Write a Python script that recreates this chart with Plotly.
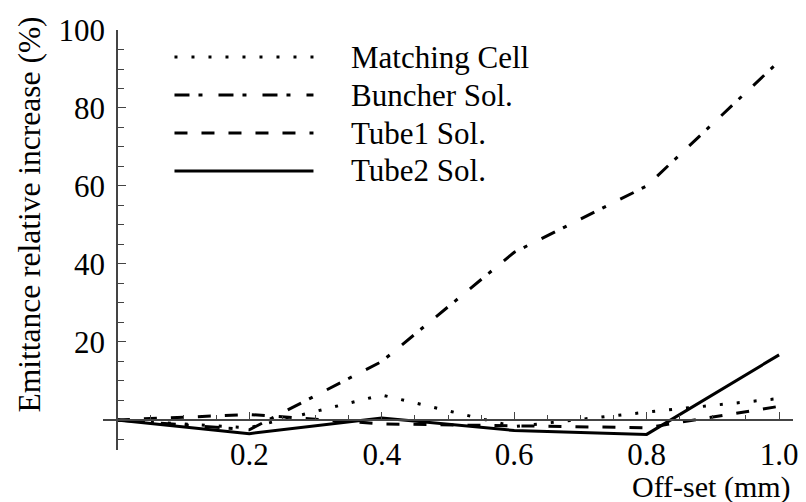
import plotly.graph_objects as go

# ---- data ----
offset_mm = [0.0, 0.2, 0.4, 0.6, 0.8, 1.0]
matching_cell = [0.0, -2.0, 6.4, -1.7, 2.0, 5.5]
buncher_sol = [0.0, -2.5, 15.0, 43.0, 60.0, 92.0]
tube1_sol = [0.0, 1.4, -1.0, -1.5, -2.0, 3.5]
tube2_sol = [0.0, -3.5, 0.5, -2.7, -3.7, 16.7]

series_names = ["Matching Cell", "Buncher Sol.", "Tube1 Sol.", "Tube2 Sol."]
series_values = [matching_cell, buncher_sol, tube1_sol, tube2_sol]
dashes = ["3px,14px", "15px,9px,4px,16px", "13px,14px", "solid"]

x_ticks = [0.2, 0.4, 0.6, 0.8, 1.0]
x_tick_text = ["0.2", "0.4", "0.6", "0.8", "1.0"]
y_ticks = [20, 40, 60, 80, 100]
y_tick_text = ["20", "40", "60", "80", "100"]

FONT = "Liberation Serif"
AX = "#444444"

x_range = [-0.021, 1.021]
y_range = [-7.7, 100]

fig = go.Figure()
for name, vals, d in zip(series_names, series_values, dashes):
    fig.add_trace(go.Scatter(
        x=offset_mm, y=vals, mode="lines", name=name,
        line=dict(color="black", width=3, dash=d),
        showlegend=False,
    ))

xpos0 = (0 - y_range[0]) / (y_range[1] - y_range[0])
ypos0 = (0 - x_range[0]) / (x_range[1] - x_range[0])

x_minor = [round(0.05 * i, 2) for i in range(1, 21) if round(0.05 * i, 2) not in x_ticks]
y_minor = [v for v in range(-5, 100, 5) if v not in y_ticks and v != 0]

fig.update_layout(
    width=806, height=502,
    margin=dict(l=103, r=8, t=30, b=52),
    paper_bgcolor="white", plot_bgcolor="white",
    font=dict(family=FONT, size=31, color="black"),
    xaxis=dict(
        range=x_range, anchor="free", position=xpos0,
        showgrid=False, zeroline=False, showline=True,
        linecolor=AX, linewidth=1.5,
        tickmode="array", tickvals=x_ticks, ticktext=x_tick_text,
        ticks="inside", ticklen=7, tickwidth=1.2, tickcolor=AX,
        ticklabelstandoff=7,
        minor=dict(tickmode="array", tickvals=x_minor, ticks="inside",
                   ticklen=4, tickwidth=1, tickcolor=AX, showgrid=False),
        tickfont=dict(family=FONT, size=31, color="black"),
    ),
    yaxis=dict(
        range=y_range, anchor="free", position=ypos0,
        showgrid=False, zeroline=False, showline=True,
        linecolor=AX, linewidth=1.5,
        tickmode="array", tickvals=y_ticks, ticktext=y_tick_text,
        ticks="inside", ticklen=8, tickwidth=1.2, tickcolor=AX,
        ticklabelstandoff=5,
        minor=dict(tickmode="array", tickvals=y_minor, ticks="inside",
                   ticklen=6, tickwidth=1, tickcolor=AX, showgrid=False),
        tickfont=dict(family=FONT, size=31, color="black"),
    ),
)

# ---- manual legend (long line samples) ----
plot_l, plot_r, plot_t, plot_b = 103, 798, 30, 450
def px_to_paper_x(px):
    return (px - plot_l) / (plot_r - plot_l)
def px_to_paper_y(py):
    return 1 - (py - plot_t) / (plot_b - plot_t)

legend_rows_px = [57, 95, 133, 171]
for name, d, ry in zip(series_names, dashes, legend_rows_px):
    yp = px_to_paper_y(ry)
    fig.add_shape(type="line", xref="paper", yref="paper",
                  x0=px_to_paper_x(175), x1=px_to_paper_x(315), y0=yp, y1=yp,
                  line=dict(color="black", width=3, dash=d))
    fig.add_annotation(xref="paper", yref="paper", x=px_to_paper_x(351), y=yp,
                       xanchor="left", yanchor="middle", showarrow=False,
                       text=name, font=dict(family=FONT, size=31, color="black"))

# ---- axis titles ----
fig.add_annotation(xref="paper", yref="paper", x=px_to_paper_x(28), y=px_to_paper_y(215),
                   xanchor="center", yanchor="middle", showarrow=False, textangle=-90,
                   text="Emittance relative increase (%)",
                   font=dict(family=FONT, size=31.5, color="black"))
fig.add_annotation(xref="paper", yref="paper", x=1.0, y=px_to_paper_y(487),
                   xanchor="right", yanchor="middle", showarrow=False,
                   text="Off-set (mm)",
                   font=dict(family=FONT, size=30, color="black"))

fig.write_html("out.html")
